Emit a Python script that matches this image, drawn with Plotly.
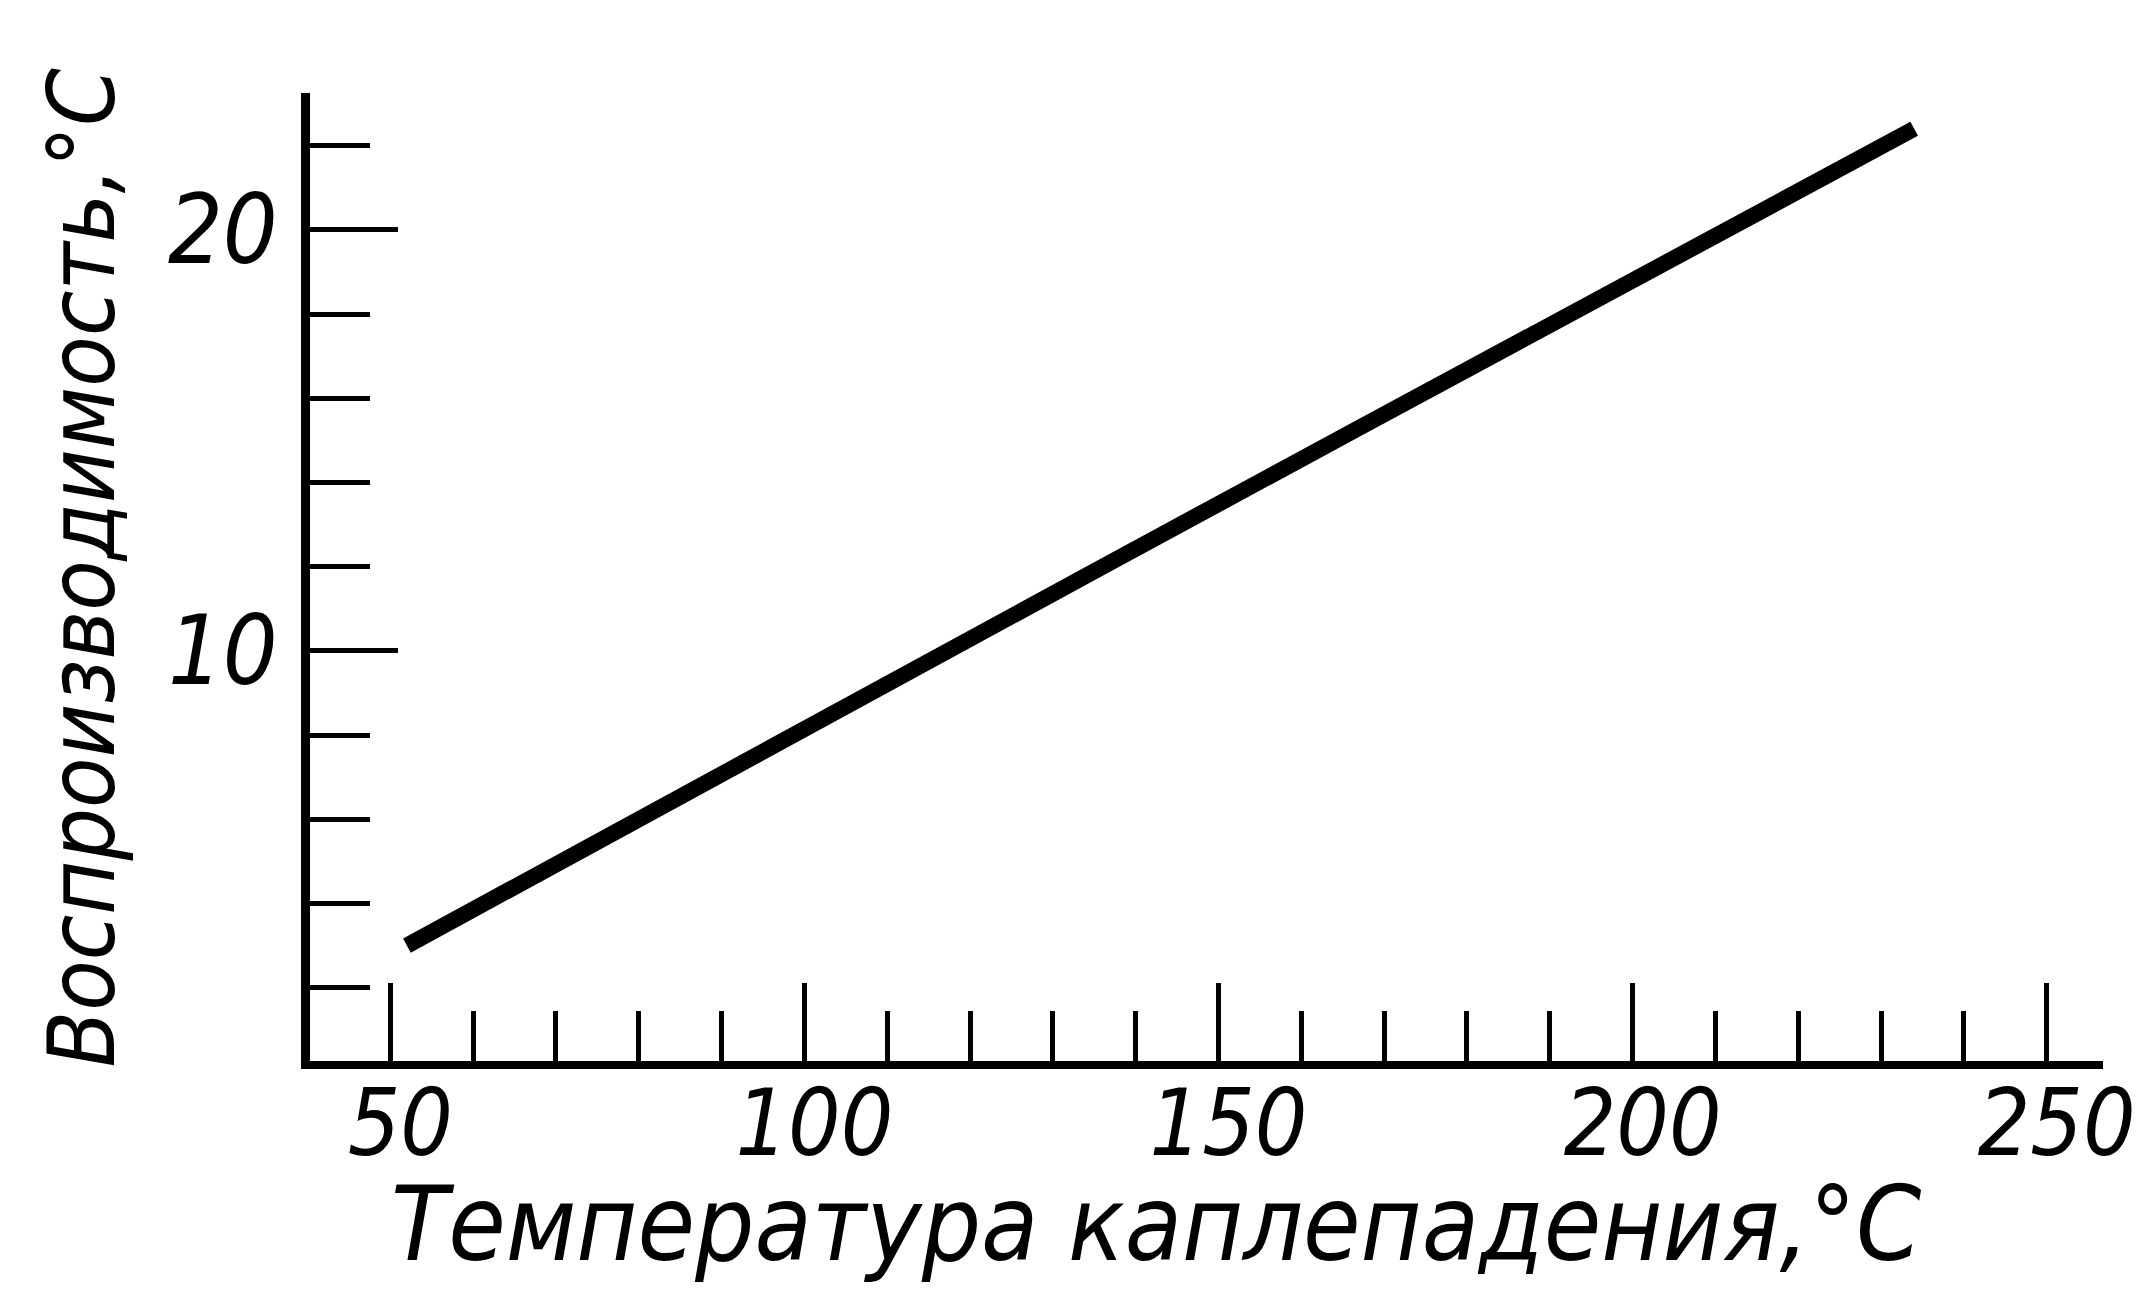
import plotly.graph_objects as go

# Data
x_temp = [52, 77, 98, 136, 167, 197, 234]           # Температура каплепадения, °C
y_repro = [3.0, 5.7, 7.9, 12.0, 15.3, 18.45, 22.4]  # Воспроизводимость, °C

x_ticks = [50, 100, 150, 200, 250]
y_ticks = [10, 20]

x_title = "Температура каплепадения,°C"
y_title = "Воспроизводимость,°C"

FONT = "DejaVu Sans Condensed, DejaVu Sans, sans-serif"

fig = go.Figure()
fig.add_trace(go.Scatter(
    x=x_temp, y=y_repro, mode="lines",
    line=dict(color="black", width=16),
    showlegend=False, hoverinfo="skip",
))

fig.update_layout(
    width=2150, height=1301,
    margin=dict(l=302, r=55, t=85, b=248),
    paper_bgcolor="white", plot_bgcolor="white",
    font=dict(family=FONT, color="black", size=94, style="italic"),
    xaxis=dict(
        range=[40.3, 256.8],
        tickmode="array", tickvals=x_ticks, ticktext=[str(v) for v in x_ticks],
        ticks="inside", ticklen=78, tickwidth=5, tickcolor="black",
        minor=dict(ticks="inside", ticklen=50, tickwidth=5, tickcolor="black",
                   dtick=10, tick0=0, showgrid=False),
        showline=True, linewidth=8, linecolor="black",
        showgrid=False, zeroline=False,
        tickfont=dict(family=FONT, size=92, style="italic"),
        ticklabelshift=10, ticklabelstandoff=-24,
    ),
    yaxis=dict(
        range=[0.26, 23.25],
        tickmode="array", tickvals=y_ticks, ticktext=[str(v) for v in y_ticks],
        ticks="inside", ticklen=88, tickwidth=5, tickcolor="black",
        minor=dict(ticks="inside", ticklen=60, tickwidth=5, tickcolor="black",
                   dtick=2, tick0=0, showgrid=False),
        showline=True, linewidth=9, linecolor="black",
        showgrid=False, zeroline=False,
        tickfont=dict(family=FONT, size=96, style="italic"),
        ticklabelstandoff=4,
    ),
    annotations=[
        dict(text=x_title, xref="paper", yref="paper", x=0.472, y=-0.168,
             xanchor="center", yanchor="middle", showarrow=False,
             font=dict(family=FONT, size=104, style="italic")),
        dict(text=y_title, xref="paper", yref="paper", x=-0.127, y=0.51,
             xanchor="center", yanchor="middle", showarrow=False, textangle=-90,
             font=dict(family=FONT, size=92, style="italic")),
    ],
)

fig.write_html("out.html")
